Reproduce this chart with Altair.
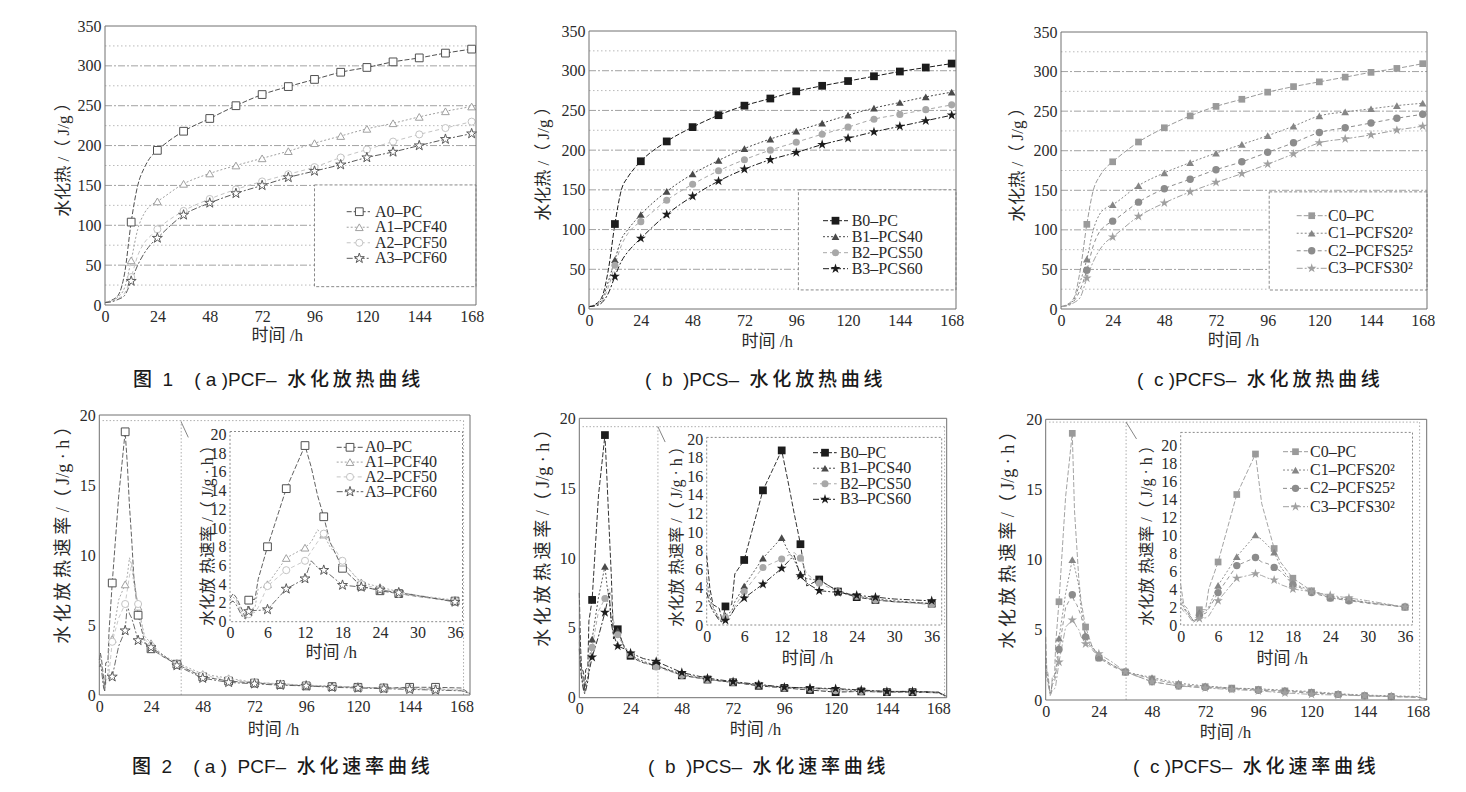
import altair as alt
import pandas as pd

# ---------------- data ----------------
HEAT_HOURS = [0, 3, 6, 9, 12, 15, 18, 21, 24, 36, 48, 60, 72, 84, 96, 108, 120, 132, 144, 156, 168]
HEAT_MARK_HOURS = [12, 24, 36, 48, 60, 72, 84, 96, 108, 120, 132, 144, 156, 168]

A_NAMES = ["A0–PC", "A1–PCF40", "A2–PCF50", "A3–PCF60"]
B_NAMES = ["B0–PC", "B1–PCS40", "B2–PCS50", "B3–PCS60"]
C_NAMES = ["C0–PC", "C1–PCFS20²", "C2–PCFS25²", "C3–PCFS30²"]

A0_HEAT = [3, 6, 12, 40, 104, 150, 172, 186, 194, 218, 234, 250, 264, 274, 283, 292, 298, 305, 310, 316, 321]
A1_HEAT = [3, 5, 10, 22, 56, 95, 115, 125, 130, 152, 165, 175, 184, 193, 203, 212, 221, 228, 236, 243, 249]
A2_HEAT = [3, 5, 8, 15, 35, 62, 78, 87, 95, 118, 133, 145, 155, 164, 173, 185, 195, 205, 214, 222, 230]
A3_HEAT = [3, 4, 7, 12, 30, 50, 65, 76, 84, 113, 128, 140, 150, 160, 168, 176, 185, 192, 200, 208, 215]

B0_HEAT = [3, 6, 15, 50, 107, 150, 166, 177, 186, 211, 229, 244, 256, 265, 274, 281, 287, 293, 299, 304, 309]
B1_HEAT = [3, 5, 12, 35, 62, 88, 100, 110, 119, 148, 170, 187, 202, 214, 224, 234, 244, 253, 260, 267, 273]
B2_HEAT = [3, 5, 10, 28, 55, 80, 95, 104, 110, 137, 157, 174, 188, 200, 210, 220, 229, 239, 245, 251, 257]
B3_HEAT = [3, 4, 8, 20, 41, 60, 72, 81, 89, 119, 142, 161, 176, 188, 197, 207, 215, 223, 230, 237, 244]

C0_HEAT = [3, 6, 14, 50, 107, 150, 168, 179, 186, 211, 229, 244, 256, 265, 274, 281, 287, 293, 299, 304, 310]
C1_HEAT = [3, 5, 12, 35, 63, 100, 120, 128, 132, 156, 172, 185, 197, 208, 219, 231, 244, 249, 253, 257, 260]
C2_HEAT = [3, 5, 10, 25, 49, 80, 98, 106, 111, 135, 152, 164, 176, 186, 198, 210, 223, 229, 235, 241, 246]
C3_HEAT = [3, 4, 8, 15, 39, 60, 75, 85, 91, 117, 134, 148, 160, 171, 183, 196, 210, 215, 220, 226, 231]

RATE_HOURS = [0, 0.5, 1, 2, 2.5, 3, 4, 4.5, 6, 9, 12, 13, 14, 15, 16, 18, 21, 24, 27, 30, 36,
              48, 60, 72, 84, 96, 108, 120, 132, 144, 156, 168, 172]
RATE_MAIN_MARK_HOURS = [6, 12, 18, 24, 36, 48, 60, 72, 84, 96, 108, 120, 132, 144, 156]
RATE_INSET_MARK_HOURS = [3, 6, 9, 12, 15, 18, 21, 24, 27, 36]

A0_RATE = [2.5, 3.0, 2.6, 1.2, 0.3, 2.3, 2.4, 4.5, 8.0, 14.2, 18.8, 16.5, 13.5, 11.2, 8.5, 5.7, 3.8, 3.3, 3.0, 2.7, 2.2, 1.3, 1.0, 0.85, 0.75, 0.65, 0.6, 0.55, 0.5, 0.55, 0.55, 0.5, 0.1]
A1_RATE = [2.3, 2.6, 2.4, 0.8, 0.5, 1.3, 1.5, 3.5, 4.0, 6.8, 7.9, 8.5, 9.8, 9.3, 8.0, 6.3, 4.2, 3.7, 3.2, 2.8, 2.3, 1.5, 1.2, 0.9, 0.8, 0.7, 0.65, 0.55, 0.5, 0.45, 0.4, 0.35, 0.1]
A2_RATE = [2.0, 2.3, 2.2, 0.6, 0.4, 0.8, 1.0, 1.5, 3.8, 5.5, 6.5, 7.5, 8.5, 9.4, 8.5, 6.5, 4.0, 3.5, 3.0, 2.7, 2.2, 1.4, 1.1, 0.9, 0.8, 0.7, 0.6, 0.55, 0.5, 0.5, 0.45, 0.4, 0.1]
A3_RATE = [2.0, 2.2, 1.8, 0.5, 0.3, 1.1, 1.2, 1.2, 1.3, 3.5, 4.6, 6.5, 5.8, 5.5, 5.0, 3.9, 3.7, 3.4, 3.1, 2.8, 2.1, 1.2, 0.9, 0.8, 0.7, 0.65, 0.55, 0.5, 0.45, 0.4, 0.35, 0.3, 0.1]

B0_RATE = [7.5, 4.0, 2.2, 1.8, 0.4, 2.0, 2.2, 5.5, 7.0, 14.5, 18.8, 15.5, 12.0, 8.7, 4.2, 4.9, 3.6, 3.0, 2.7, 2.5, 2.3, 1.6, 1.3, 1.1, 0.85, 0.7, 0.55, 0.4, 0.45, 0.4, 0.4, 0.35, 0.1]
B1_RATE = [5.0, 3.0, 2.0, 0.7, 0.5, 1.0, 1.5, 2.5, 4.2, 7.2, 9.4, 8.0, 7.0, 5.5, 5.0, 4.8, 3.7, 3.1, 2.8, 2.6, 2.3, 1.7, 1.3, 1.1, 0.9, 0.75, 0.7, 0.6, 0.5, 0.45, 0.45, 0.4, 0.1]
B2_RATE = [4.0, 2.5, 1.8, 0.6, 0.4, 0.8, 1.2, 2.0, 3.6, 6.2, 7.1, 7.5, 7.8, 7.2, 5.5, 4.5, 3.6, 3.1, 2.7, 2.5, 2.2, 1.6, 1.3, 1.1, 0.9, 0.7, 0.6, 0.5, 0.45, 0.4, 0.4, 0.35, 0.1]
B3_RATE = [3.5, 2.2, 1.5, 0.5, 0.3, 0.5, 1.2, 1.8, 2.9, 4.4, 6.1, 6.8, 7.5, 5.3, 4.5, 3.7, 3.5, 3.2, 3.0, 2.8, 2.6, 1.8, 1.4, 1.15, 0.95, 0.75, 0.7, 0.65, 0.55, 0.45, 0.45, 0.4, 0.1]

C0_RATE = [4.5, 2.2, 1.9, 0.4, 0.5, 1.7, 1.7, 4.0, 7.0, 14.5, 19.0, 13.5, 11.0, 8.5, 7.0, 5.2, 3.8, 3.0, 2.8, 2.5, 2.0, 1.5, 1.1, 0.95, 0.85, 0.75, 0.65, 0.55, 0.4, 0.3, 0.25, 0.2, 0.05]
C1_RATE = [3.0, 2.0, 1.5, 0.5, 0.6, 1.4, 1.5, 2.0, 4.4, 7.6, 10.0, 9.5, 8.8, 8.1, 6.5, 4.6, 3.8, 3.2, 2.8, 2.5, 2.0, 1.6, 1.2, 1.0, 0.85, 0.8, 0.7, 0.6, 0.45, 0.35, 0.3, 0.25, 0.05]
C2_RATE = [2.5, 1.8, 1.4, 0.5, 0.6, 1.1, 1.3, 1.8, 3.6, 6.6, 7.5, 7.0, 6.8, 6.4, 6.0, 4.5, 3.6, 3.0, 2.7, 2.4, 2.0, 1.3, 1.0, 0.9, 0.8, 0.7, 0.6, 0.5, 0.4, 0.3, 0.25, 0.2, 0.05]
C3_RATE = [2.0, 1.5, 1.2, 0.3, 0.5, 0.7, 0.8, 1.0, 2.7, 5.2, 5.7, 5.5, 5.2, 5.0, 4.5, 4.0, 3.7, 3.3, 3.0, 2.7, 2.0, 1.3, 1.0, 0.85, 0.75, 0.65, 0.5, 0.4, 0.35, 0.3, 0.25, 0.2, 0.05]

HEAT_TICKS = [0, 24, 48, 72, 96, 120, 144, 168]
HEAT_YTICKS = [0, 50, 100, 150, 200, 250, 300, 350]
GRID_MAJOR = [50, 100, 150, 200, 250, 300]
GRID_MINOR = [25, 75, 125, 175, 225, 275, 325]
RATE_YTICKS = [0, 5, 10, 15, 20]
INSET_XTICKS = [0, 6, 12, 18, 24, 30, 36]
INSET_YTICKS = [0, 2, 4, 6, 8, 10, 12, 14, 16, 18, 20]

HEAT_TITLE = "水化热 /（ J/g ）"
RATE_TITLE = "水化放 热速率 /（ J/g · h ）"
TIME_TITLE = "时间 /h"

CAPTIONS_TOP = ["图  1    ( a )PCF–  水化放热曲线", "(  b  )PCS–  水化放热曲线", "(  c )PCFS–  水化放热曲线"]
CAPTIONS_BOTTOM = ["图  2    ( a )  PCF–  水化速率曲线", "(  b  )PCS–  水化速率曲线", "(  c )PCFS–  水化速率曲线"]

# ---------------- layout / style ----------------
W, H = 1450, 776
SERIF = "Liberation Serif, Times New Roman, Noto Sans CJK SC, serif"
SANS = "Liberation Sans, Arial, Noto Sans CJK SC, sans-serif"
TXT = "#2a2a2a"
STAR = ("M0,-1L0.2245,-0.309L0.9511,-0.309L0.3633,0.118L0.5878,0.809L0,0.382"
        "L-0.5878,0.809L-0.3633,0.118L-0.9511,-0.309L-0.2245,-0.309Z")

STYLE_A = dict(colors=["#505050", "#a0a0a0", "#c4c4c4", "#5a5a5a"],
               dashes=[[5, 2], [2, 2], [4, 3], [6, 2, 2, 2]],
               shapes=["square", "triangle-up", "circle", STAR],
               sizes=[60, 60, 50, 110], open=True)
STYLE_B = dict(colors=["#1c1c1c", "#4a4a4a", "#a8a8a8", "#1c1c1c"],
               dashes=[[5, 2], [2, 2], [4, 3], [6, 2, 2, 2]],
               shapes=["square", "triangle-up", "circle", STAR],
               sizes=[60, 60, 50, 110], open=False)
STYLE_C = dict(colors=["#9a9a9a", "#868686", "#8c8c8c", "#a0a0a0"],
               dashes=[[5, 2], [2, 2], [4, 3], [6, 2, 2, 2]],
               shapes=["square", "triangle-up", "circle", STAR],
               sizes=[45, 60, 55, 100], open=False)

PA = dict(xd=[0, 170], xr=[97, 468], yd=[0, 350], yr=[297, 18])
PB = dict(xd=[0, 170], xr=[581, 948], yd=[0, 350], yr=[301, 23])
PC = dict(xd=[0, 170], xr=[1053, 1419], yd=[0, 350], yr=[301, 24])

QA = dict(xd=[0, 172], xr=[91.3, 462], yd=[0, 20], yr=[687, 407])
QB = dict(xd=[0, 172], xr=[571.3, 938.7], yd=[0, 20], yr=[689.7, 410.3])
QC = dict(xd=[0, 172], xr=[1037.7, 1418.7], yd=[0, 20], yr=[692, 411.3])

IA = dict(xd=[0, 37.2], xr=[222, 454.5], yd=[0, 20.3], yr=[613.7, 423.5])
IB = dict(xd=[0, 37.6], xr=[698.7, 933.7], yd=[0, 20.2], yr=[617, 429.4])
IC = dict(xd=[0, 37.2], xr=[1172.7, 1404.5], yd=[0, 21.4], yr=[617, 424.4])


def is_cjk(c):
    return "\u4e00" <= c <= "\u9fff"


def spaced(s):
    """keep spaces visible (no-break spaces) and letter-space CJK runs with thin spaces"""
    out = []
    for i, c in enumerate(s):
        out.append("\u00a0" if c == " " else c)
        if i + 1 < len(s) and is_cjk(c) and is_cjk(s[i + 1]):
            out.append("\u2009")
    return "".join(out)


def sc(d, r):
    return alt.Scale(domain=list(d), range=list(r), nice=False, zero=False)


def X(field, p, axis=None):
    return alt.X(field, type="quantitative", scale=sc(p["xd"], p["xr"]), axis=axis)


def Y(field, p, axis=None):
    return alt.Y(field, type="quantitative", scale=sc(p["yd"], p["yr"]), axis=axis)


def xaxis(p, values, title, tx, tdy, tfs=17):
    return alt.Axis(orient="bottom", offset=p["yr"][0] - H, values=values, domain=False,
                    ticks=False, grid=False, labelFont=SERIF, labelFontSize=16,
                    labelColor=TXT, labelPadding=3, labelFlush=False, labelOverlap=False,
                    format="d", title=title, titleFont=SERIF, titleFontSize=tfs,
                    titleFontWeight="normal", titleColor=TXT, titleX=tx, titleY=tdy,
                    titleAlign="center", titleBaseline="middle", titleAngle=0)


def yaxis(p, values, title, tdx, ty, tfs=17):
    return alt.Axis(orient="left", offset=-p["xr"][0], values=values, domain=False,
                    ticks=False, grid=False, labelFont=SERIF, labelFontSize=16,
                    labelColor=TXT, labelPadding=4, labelFlush=False, labelOverlap=False,
                    format="d", title=title, titleFont=SERIF, titleFontSize=tfs,
                    titleFontWeight="normal", titleColor=TXT, titleX=tdx, titleY=ty,
                    titleAlign="center", titleBaseline="middle", titleAngle=270)


def box(p, x0, x1, y0, y1, stroke, dash=None, fill="transparent", xa=None, ya=None, sw=1):
    df = pd.DataFrame({"x0": [x0], "x1": [x1], "y0": [y0], "y1": [y1]})
    kw = dict(stroke=stroke, strokeWidth=sw, fill=fill)
    if dash:
        kw["strokeDash"] = dash
    return alt.Chart(df).mark_rect(**kw).encode(
        x=X("x0", p, xa), x2="x1", y=Y("y0", p, ya), y2="y1")


def hrules(p, ys, x0, x1, color, dash, sw=0.8):
    df = pd.DataFrame({"gy": ys, "x0": [x0] * len(ys), "x1": [x1] * len(ys)})
    return alt.Chart(df).mark_rule(stroke=color, strokeWidth=sw, strokeDash=dash).encode(
        x=X("x0", p), x2="x1", y=Y("gy", p))


def marker_kw(st, i):
    kw = dict(shape=st["shapes"][i], size=st["sizes"][i], filled=True, opacity=1)
    if st["open"]:
        kw.update(fill="white", stroke=st["colors"][i], strokeWidth=1)
    else:
        kw.update(fill=st["colors"][i], strokeWidth=0)
    return kw


def series_layers(p, hours, series, mark_hours, st, interp, hmax=None, lw=1.0):
    lines, pts = [], []
    for i, vals in enumerate(series):
        df = pd.DataFrame({"h": hours, "v": vals})
        if hmax is not None:
            df = df[df.h <= hmax]
        lines.append(alt.Chart(df).mark_line(
            color=st["colors"][i], strokeWidth=lw, strokeDash=st["dashes"][i],
            interpolate=interp).encode(x=X("h", p), y=Y("v", p)))
        mk = df[df.h.isin(mark_hours)]
        pts.append(alt.Chart(mk).mark_point(**marker_kw(st, i)).encode(
            x=X("h", p), y=Y("v", p)))
    return lines + pts


def legend(names, st, rows, sx0, sx1, smid, tx, fs):
    out = []
    for i, n in enumerate(names):
        df = pd.DataFrame({"s": [n], "r": [i]})
        y = alt.Y("r:Q", scale=sc([0, len(names) - 1], rows), axis=None)
        out.append(alt.Chart(df).mark_rule(color=st["colors"][i], strokeWidth=1,
                                           strokeDash=st["dashes"][i]).encode(
            x=alt.value(sx0), x2=alt.value(sx1), y=y))
        out.append(alt.Chart(df).mark_point(**marker_kw(st, i)).encode(x=alt.value(smid), y=y))
        out.append(alt.Chart(df).mark_text(align="left", baseline="middle", font=SERIF,
                                           fontSize=fs, color=TXT).encode(
            x=alt.value(tx), y=y, text="s:N"))
    return out


def heat_panel(p, names, series, st, xt, yt, lbox, lrows, lsym):
    layers = []
    layers.append(hrules(p, GRID_MINOR, 0, p["xd"][1], "#a8a8a8", [1.5, 2.5]))
    layers.append(hrules(p, GRID_MAJOR, 0, p["xd"][1], "#8a8a8a", [7, 2, 2, 2]))
    layers.append(box(p, lbox[0], p["xd"][1], lbox[1], lbox[2], "#8a8a8a", [3, 2], fill="white"))
    layers += series_layers(p, HEAT_HOURS, series, HEAT_MARK_HOURS, st, "monotone")
    layers += legend(names, st, lrows, lsym[0], lsym[1], lsym[2], lsym[3], 16)
    layers.append(box(p, 0, p["xd"][1], 0, p["yd"][1], "#707070",
                      xa=xaxis(p, HEAT_TICKS, TIME_TITLE, xt[0], xt[1]),
                      ya=yaxis(p, HEAT_YTICKS, HEAT_TITLE, yt[0], yt[1])))
    return layers


def rate_panel(q, ip, names, series, st, deco, xt, yt, ixt, iyt, lrows, lsym):
    layers = []
    top, vx, rx, d0, d1 = deco
    layers.append(hrules(q, [top], 1.5, rx, "#9a9a9a", [1.5, 2]))
    vdf = pd.DataFrame({"x0": [vx, rx], "y0": [0, 0], "y1": [top, top]})
    layers.append(alt.Chart(vdf).mark_rule(stroke="#9a9a9a", strokeWidth=0.8,
                                           strokeDash=[1.5, 2]).encode(
        x=X("x0", q), y=Y("y0", q), y2="y1"))
    ddf = pd.DataFrame({"x0": [d0[0]], "x1": [d1[0]], "y0": [d0[1]], "y1": [d1[1]]})
    layers.append(alt.Chart(ddf).mark_rule(stroke="#777777", strokeWidth=0.9).encode(
        x=X("x0", q), x2="x1", y=Y("y0", q), y2="y1"))
    layers += series_layers(q, RATE_HOURS, series, RATE_MAIN_MARK_HOURS, st, "linear", lw=0.9)
    # inset
    layers.append(box(ip, 0, ip["xd"][1], 0, ip["yd"][1], "#8a8a8a", [2, 2], fill="white",
                      xa=xaxis(ip, INSET_XTICKS, TIME_TITLE, ixt[0], ixt[1]),
                      ya=yaxis(ip, INSET_YTICKS, RATE_TITLE, iyt[0], iyt[1], tfs=16)))
    layers += series_layers(ip, RATE_HOURS, series, RATE_INSET_MARK_HOURS, st, "linear",
                            hmax=36.5, lw=0.9)
    layers += legend(names, st, lrows, lsym[0], lsym[1], lsym[2], lsym[3], 16)
    layers.append(box(q, 0, q["xd"][1], 0, q["yd"][1], "#707070",
                      xa=xaxis(q, HEAT_TICKS, TIME_TITLE, xt[0], xt[1]),
                      ya=yaxis(q, RATE_YTICKS, spaced(RATE_TITLE), yt[0], yt[1], tfs=18)))
    return layers


def caption(text, x, y):
    df = pd.DataFrame({"t": [spaced(text)]})
    return alt.Chart(df).mark_text(align="left", baseline="middle", font=SANS, fontSize=19,
                                   fontWeight=500, color="#1a1a1a").encode(
        x=alt.value(x), y=alt.value(y), text="t:N")


layers = []
layers += heat_panel(PA, A_NAMES, [A0_HEAT, A1_HEAT, A2_HEAT, A3_HEAT], STYLE_A,
                     (268.7, 30), (-42, 147), (96, 23, 150.6),
                     [203.7, 250.3], (338.7, 362, 351.3, 367))
layers += heat_panel(PB, B_NAMES, [B0_HEAT, B1_HEAT, B2_HEAT, B3_HEAT], STYLE_B,
                     (758.7, 32), (-46, 151), (97, 24, 150),
                     [212.7, 260.7], (815, 840, 827.5, 843.7))
layers += heat_panel(PC, C_NAMES, [C0_HEAT, C1_HEAT, C2_HEAT, C3_HEAT], STYLE_C,
                     (1225, 31), (-44, 152), (96.7, 24, 148),
                     [207.7, 260.3], (1288.7, 1318.7, 1303.7, 1320))

layers += rate_panel(QA, IA, A_NAMES, [A0_RATE, A1_RATE, A2_RATE, A3_RATE], STYLE_A,
                     (19.6, 38, 169, (38, 19.5), (41.3, 18.4)),
                     (265, 34), (-36, 522), (322.7, 31), (-23, 523),
                     [439.3, 483.7], (328.7, 355.3, 342, 357))
layers += rate_panel(QB, IB, B_NAMES, [B0_RATE, B1_RATE, B2_RATE, B3_RATE], STYLE_B,
                     (19.4, 36.8, 171, (36.8, 19.4), (40.2, 18.3)),
                     (747, 32), (-36, 525), (799, 33), (-30, 524),
                     [444.7, 491.3], (805, 828.7, 817, 832))
layers += rate_panel(QC, IC, C_NAMES, [C0_RATE, C1_RATE, C2_RATE, C3_RATE], STYLE_C,
                     (19.8, 36.3, 168.8, (36.3, 19.8), (41, 18.6)),
                     (1217, 32), (-37, 527), (1273.7, 33), (-34, 523),
                     [443.7, 498.7], (1275, 1300, 1287.5, 1302))

for txt, x in zip(CAPTIONS_TOP, [125, 637, 1129]):
    layers.append(caption(txt, x, 372))
for txt, x in zip(CAPTIONS_BOTTOM, [124, 640, 1125]):
    layers.append(caption(txt, x, 759))

chart = alt.layer(*layers).resolve_scale(x="independent", y="independent").properties(
    width=W, height=H, padding=0, autosize=alt.AutoSizeParams(type="none"),
    background="white").configure_view(stroke=None)

chart.save("out.html", embed_options={"renderer": "svg", "actions": False})
